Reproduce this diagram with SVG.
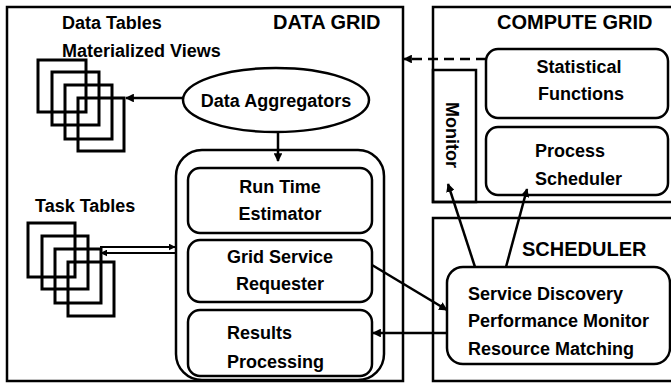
<svg xmlns="http://www.w3.org/2000/svg" width="671" height="383" viewBox="0 0 671 383">
<style>
text{font-family:"Liberation Sans",Arial,sans-serif;font-weight:bold;font-size:18px;fill:#000}
.t{font-size:20px}
.frame{fill:none;stroke:#000;stroke-width:2.5}
.rb{fill:#fff;stroke:#000;stroke-width:2.5}
.sq{fill:none;stroke:#000;stroke-width:3}
.ln{fill:none;stroke:#000;stroke-width:2.5}
.thin{fill:none;stroke:#000;stroke-width:2}
</style>
<defs>
<marker id="ah" viewBox="0 0 10 10" refX="9" refY="5" markerWidth="3.5" markerHeight="3.5" orient="auto" markerUnits="strokeWidth">
<path d="M0,0 L10,5 L0,10 Z" fill="#000"/>
</marker>
</defs>
<rect width="671" height="383" fill="#fff"/>

<g id="data-grid">
<rect class="frame" x="7" y="7" width="396" height="374"/>
<text class="t" x="273" y="29">DATA GRID</text>
</g>

<g id="compute-grid">
<path class="frame" d="M673,7 H433 V202 H673"/>
<text class="t" x="497" y="29">COMPUTE GRID</text>
</g>

<g id="scheduler">
<path class="frame" d="M673,218 H433 V381 H673"/>
<text class="t" x="522" y="256">SCHEDULER</text>
</g>

<g id="monitor">
<rect class="frame" x="433" y="70" width="43" height="132"/>
<text transform="translate(446,135) rotate(90)" text-anchor="middle">Monitor</text>
</g>

<g id="data-tables">
<text x="62" y="29">Data Tables</text>
<text x="62" y="57">Materialized Views</text>
<rect class="sq" x="38" y="60" width="48" height="52"/>
<rect class="sq" x="52" y="72" width="47" height="53"/>
<rect class="sq" x="65" y="85" width="47" height="54"/>
<rect class="sq" x="78" y="98" width="46" height="53"/>
</g>

<g id="task-tables">
<text x="35" y="212">Task Tables</text>
<rect class="sq" x="28" y="223" width="47" height="54"/>
<rect class="sq" x="42" y="236" width="46" height="53"/>
<rect class="sq" x="55" y="249" width="46" height="54"/>
<rect class="sq" x="68" y="262" width="46" height="54"/>
</g>

<g id="data-aggregators">
<ellipse cx="276" cy="100" rx="93" ry="32" class="rb"/>
<text x="276" y="107" text-anchor="middle">Data Aggregators</text>
</g>

<g id="outer-container">
<rect class="frame" x="176" y="150" width="208" height="230" rx="26"/>
</g>

<g id="run-time-estimator">
<rect class="rb" x="188" y="168" width="184" height="65" rx="12"/>
<text x="280" y="193" text-anchor="middle">Run Time</text>
<text x="280" y="220" text-anchor="middle">Estimator</text>
</g>

<g id="grid-service-requester">
<rect class="rb" x="188" y="240" width="184" height="62" rx="12"/>
<text x="280" y="263" text-anchor="middle">Grid Service</text>
<text x="280" y="290" text-anchor="middle">Requester</text>
</g>

<g id="results-processing">
<rect class="rb" x="188" y="310" width="184" height="66" rx="12"/>
<text x="227" y="339">Results</text>
<text x="227" y="368">Processing</text>
</g>

<g id="statistical-functions">
<rect class="rb" x="486" y="49" width="182" height="69" rx="12"/>
<text x="579" y="73" text-anchor="middle">Statistical</text>
<text x="581" y="100" text-anchor="middle">Functions</text>
</g>

<g id="process-scheduler">
<rect class="rb" x="486" y="127" width="182" height="68" rx="12"/>
<text x="535" y="157">Process</text>
<text x="535" y="185">Scheduler</text>
</g>

<g id="scheduler-services">
<rect class="rb" x="447" y="267" width="223" height="97" rx="16"/>
<text x="468" y="300">Service Discovery</text>
<text x="468" y="327">Performance Monitor</text>
<text x="468" y="355">Resource Matching</text>
</g>

<g id="connectors">
<line class="ln" x1="183" y1="98" x2="126" y2="98" marker-end="url(#ah)"/>
<line class="ln" x1="278" y1="133" x2="278" y2="161" marker-end="url(#ah)"/>
<line class="thin" x1="100" y1="247" x2="175" y2="247" marker-end="url(#ah)"/>
<line class="thin" x1="175" y1="253" x2="101" y2="253" marker-end="url(#ah)"/>
<line class="ln" x1="486" y1="59" x2="404" y2="59" stroke-dasharray="10,6" marker-end="url(#ah)"/>
<line class="ln" x1="475" y1="267" x2="448" y2="184" marker-end="url(#ah)"/>
<line class="ln" x1="506" y1="267" x2="527" y2="189" marker-end="url(#ah)"/>
<line class="ln" x1="372" y1="265" x2="447" y2="310" marker-end="url(#ah)"/>
<line class="ln" x1="447" y1="333" x2="373" y2="333" marker-end="url(#ah)"/>
</g>
</svg>
